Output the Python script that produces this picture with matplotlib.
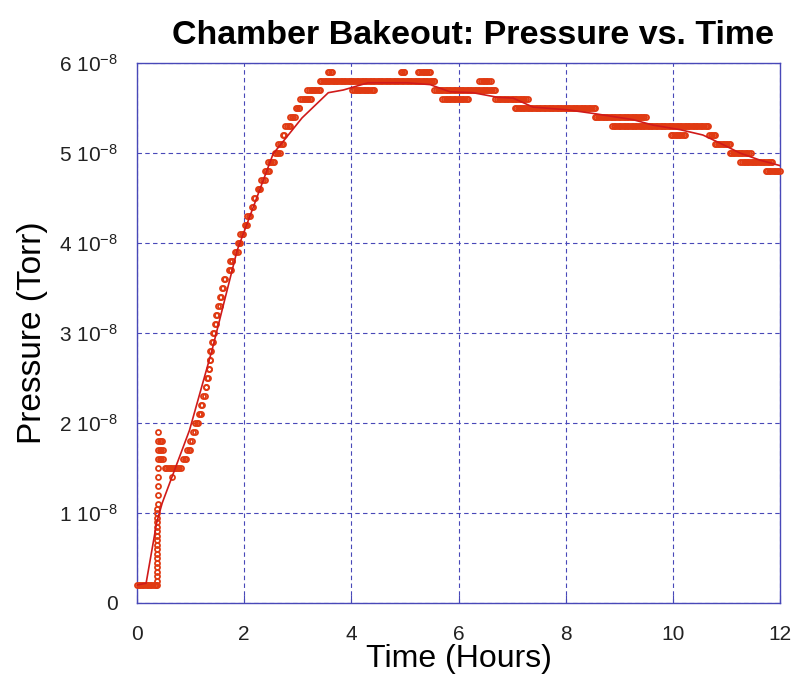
import numpy as np
import matplotlib
matplotlib.use("Agg")
import matplotlib.pyplot as plt

plt.rcParams['font.family'] = ['Liberation Sans', 'DejaVu Sans']
plt.rcParams['mathtext.default'] = 'regular'

# pressure readings in units of 1e-8 Torr; the gauge reads in 0.1 steps,
# so the log is kept as runs of constant reading (start hour, end hour)
run_level = [0.2, 1.8, 1.7, 1.6, 1.5, 1.4,
             1.6, 1.7, 1.8, 1.9, 2.0, 2.1, 2.2, 2.3, 2.4, 2.5, 2.6, 2.7, 2.8, 2.9,
             3.0, 3.1, 3.2, 3.3, 3.4, 3.5, 3.6, 3.7, 3.8, 3.9, 4.0, 4.1, 4.2, 4.3,
             4.4, 4.5, 4.6, 4.7, 4.8, 4.9, 5.0, 5.1, 5.2, 5.3, 5.4, 5.5, 5.6, 5.7,
             5.8, 5.9, 5.7, 5.9, 5.9, 5.7, 5.6, 5.8, 5.6, 5.5, 5.4, 5.3, 5.2, 5.2,
             5.1, 5.0, 4.9, 4.8]
run_start = [0.00, 0.42, 0.42, 0.42, 0.52, 0.65,
             0.86, 0.94, 0.99, 1.05, 1.09, 1.15, 1.20, 1.24, 1.28, 1.31, 1.34, 1.36, 1.37, 1.40,
             1.42, 1.46, 1.48, 1.52, 1.54, 1.58, 1.63, 1.71, 1.74, 1.82, 1.88, 1.93, 2.01, 2.06,
             2.14, 2.19, 2.25, 2.32, 2.38, 2.45, 2.58, 2.64, 2.72, 2.77, 2.86, 2.96, 3.05, 3.18,
             3.41, 3.56, 4.02, 4.92, 5.24, 5.55, 5.70, 6.39, 6.69, 7.05, 8.54, 8.87, 9.96, 10.68,
             10.78, 11.06, 11.26, 11.73]
run_end = [0.37, 0.46, 0.48, 0.48, 0.82, 0.65,
           0.92, 0.98, 1.02, 1.08, 1.13, 1.19, 1.22, 1.26, 1.29, 1.33, 1.35, 1.37, 1.38, 1.41,
           1.44, 1.48, 1.49, 1.54, 1.56, 1.60, 1.65, 1.75, 1.78, 1.88, 1.93, 1.97, 2.06, 2.10,
           2.17, 2.21, 2.30, 2.38, 2.47, 2.55, 2.66, 2.72, 2.75, 2.86, 2.94, 3.03, 3.24, 3.41,
           5.55, 3.63, 4.43, 4.99, 5.46, 6.69, 6.17, 6.60, 7.29, 8.54, 9.49, 10.65, 10.22, 10.78,
           11.06, 11.45, 11.86, 12.00]
sample_step = 0.03  # hours between gauge readings

# fast spike when the heaters came on
spike_time = [0.37] * 17 + [0.40] * 9
spike_level = [0.25, 0.3, 0.35, 0.4, 0.45, 0.5, 0.55, 0.6, 0.65, 0.7, 0.75, 0.8,
               0.85, 0.9, 0.95, 1.0, 1.05,
               1.1, 1.2, 1.3, 1.4, 1.5, 1.6, 1.7, 1.8, 1.9]

# smoothed trend line
fit_time = [0.0, 0.17, 0.37, 0.47, 0.98, 1.40, 1.87, 2.54, 3.08, 3.57, 3.85, 4.31,
            5.04, 5.47, 5.84, 6.27, 6.72, 7.02, 7.39, 8.03, 8.51, 9.26, 9.63, 10.13,
            10.56, 10.88, 11.25, 11.63, 12.0]
fit_level = [0.2, 0.22, 0.9, 1.11, 1.92, 2.81, 3.92, 4.99, 5.39, 5.67, 5.70, 5.78,
             5.78, 5.76, 5.68, 5.67, 5.62, 5.61, 5.51, 5.48, 5.44, 5.37, 5.31, 5.26,
             5.20, 5.11, 5.00, 4.92, 4.86]

y_ticks = [0, 1, 2, 3, 4, 5, 6]
y_tick_labels = ['0'] + ['%d 10$^{-8}$' % v for v in y_ticks[1:]]
x_ticks = [0, 2, 4, 6, 8, 10, 12]

MARK = '#e03a12'
LINE = '#d01a1a'
FRAME = '#4848b8'


def sample_runs():
    times, levels = [], []
    for lev, t0, t1 in zip(run_level, run_start, run_end):
        ts = np.arange(t0, t1 + 1e-9, sample_step)
        if len(ts) == 0 or ts[-1] < t1 - 1e-6:
            ts = np.append(ts, t1)
        times.extend(ts)
        levels.extend([lev] * len(ts))
    times.extend(spike_time)
    levels.extend(spike_level)
    return np.array(times), np.array(levels)


fig = plt.figure(figsize=(7.98, 6.75), dpi=100)
ax = fig.add_axes([137 / 798, 72 / 675, 643 / 798, 540 / 675])

t, p = sample_runs()
ax.plot(t, p, linestyle='none', marker='o', markersize=3.6, mfc='none',
        mec=MARK, mew=1.3, clip_on=False, zorder=3)
ax.plot(fit_time, fit_level, color=LINE, linewidth=1.2, zorder=4)

ax.set_xlim(0, 12)
ax.set_ylim(0, 6)
ax.set_xticks(x_ticks)
ax.set_xticklabels([str(v) for v in x_ticks], fontsize=15, color='#222222')
ax.set_yticks(y_ticks)
ax.set_yticklabels(y_tick_labels, fontsize=15, color='#222222')
ax.tick_params(axis='x', direction='in', length=6, color=FRAME, pad=16)
ax.tick_params(axis='y', length=0, pad=14)
ax.grid(True, color=FRAME, linestyle=(0, (4, 3)), linewidth=0.8)
for s in ax.spines.values():
    s.set_color(FRAME)
    s.set_linewidth(1.0)

ax.set_title('Chamber Bakeout: Pressure vs. Time', fontsize=24.5,
             fontweight='bold', pad=14, x=0.523)
ax.set_xlabel('Time (Hours)', fontsize=23, labelpad=0)
ax.set_ylabel('Pressure (Torr)', fontsize=24, labelpad=8)

fig.savefig('out.png', dpi=100)
